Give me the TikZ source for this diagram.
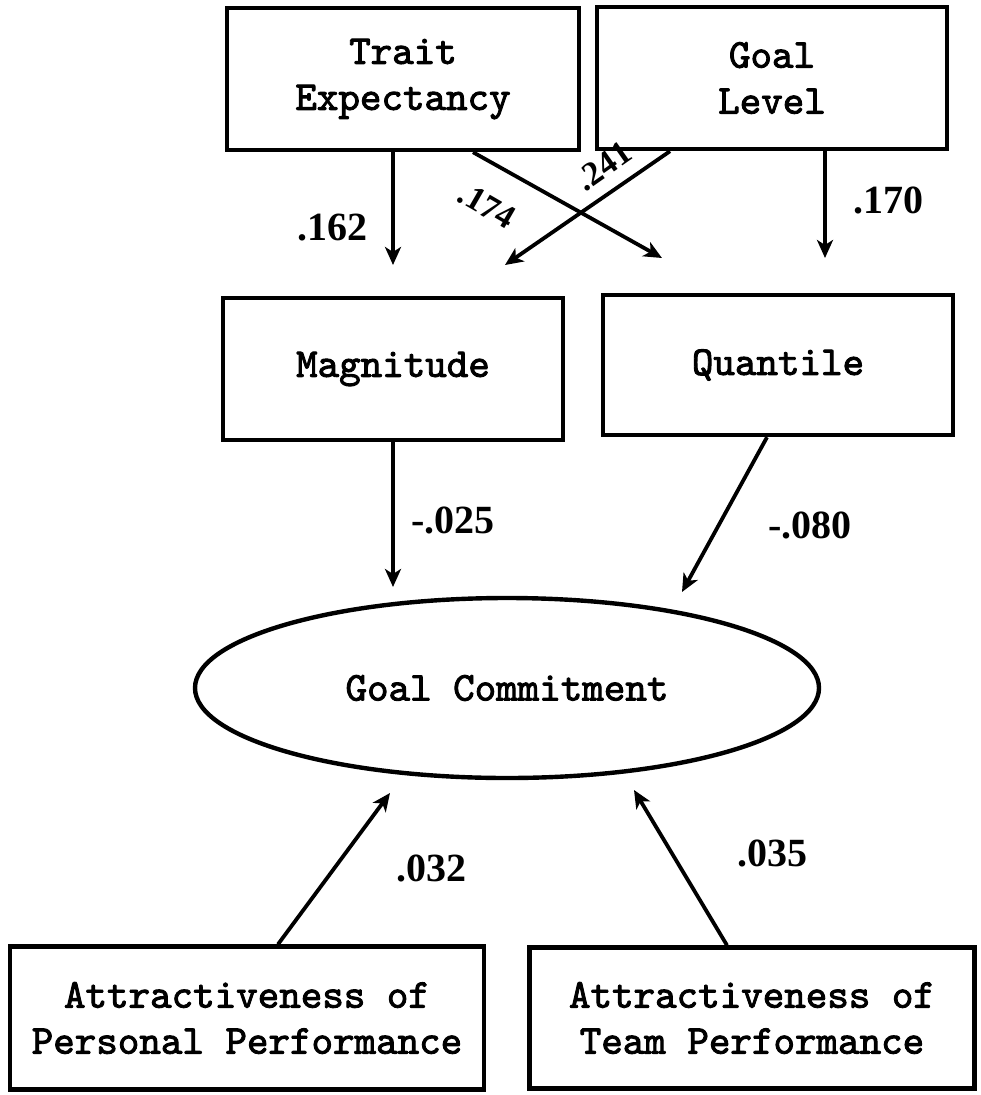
\documentclass[tikz,border=0pt]{standalone}
\usepackage{fontspec}
\usetikzlibrary{arrows.meta,shapes.geometric}
\newfontfamily\boxfont{lmmono10-regular.otf}[FakeBold=2.2]
\newfontfamily\numfont{Liberation Serif}
\tikzset{
  box/.style={draw,line width=4.4pt,rectangle,inner sep=0pt,align=center,
    font=\boxfont\fontsize{41}{46}\selectfont},
  latent/.style={draw,line width=4.4pt,ellipse,inner sep=0pt,
    font=\boxfont\fontsize{41}{46}\selectfont},
  arr/.style={line width=3.8pt,-{Stealth[length=18pt,width=16pt,inset=5pt]}},
  coef/.style={font=\numfont\bfseries\fontsize{40}{44}\selectfont,inner sep=0pt},
  coefr/.style={font=\numfont\bfseries\fontsize{34}{38}\selectfont,inner sep=0pt}
}
\begin{document}
\begin{tikzpicture}[x=1pt,y=-1pt]
\useasboundingbox (0,0) rectangle (980,1095);

% observed variables and the latent outcome
\node[box,minimum width=352pt,minimum height=142pt] (trait) at (403,79) {Trait\\Expectancy};
\node[box,minimum width=350pt,minimum height=142pt] (goal) at (772,78) {Goal\\Level};
\node[box,minimum width=340pt,minimum height=142pt] (mag) at (393,369) {Magnitude};
\node[box,minimum width=350pt,minimum height=140pt] (quant) at (778,365) {Quantile};
\node[latent,minimum width=624pt,minimum height=180pt] (gc) at (507,688) {Goal Commitment};
\node[box,minimum width=474pt,minimum height=143pt] (pers) at (247,1018) {Attractiveness of\\Personal Performance};
\node[box,minimum width=445pt,minimum height=141pt] (team) at (752,1018) {Attractiveness of\\Team Performance};

% arrow tips stop short of their targets
\coordinate (t162) at (393,265);
\coordinate (s174) at (473,0);
\coordinate (t174) at (662,258);
\coordinate (s241) at (670,0);
\coordinate (t241) at (505,265);
\coordinate (t170) at (825,258);
\coordinate (t025) at (393,587);
\coordinate (s080) at (767,0);
\coordinate (t080) at (682,592);
\coordinate (s032) at (278,0);
\coordinate (t032) at (390,793);
\coordinate (s035) at (727,0);
\coordinate (t035) at (634,790);

% paths
\draw[arr] (trait.south -| t162) -- (t162);
\draw[arr] (trait.south -| s174) -- (t174);
\draw[arr] (goal.south -| s241) -- (t241);
\draw[arr] (goal.south -| t170) -- (t170);
\draw[arr] (mag.south -| t025) -- (t025);
\draw[arr] (quant.south -| s080) -- (t080);
\draw[arr] (pers.north -| s032) -- (t032);
\draw[arr] (team.north -| s035) -- (t035);

% path coefficients
\node[coef] (c162) at (332,228) {.162};
\node[coefr,rotate=-30] (c174) at (487,206) {.174};
\node[coefr,rotate=35] (c241) at (604,166) {.241};
\node[coef] (c170) at (888,200) {.170};
\node[coef] (c025) at (453,520) {-.025};
\node[coef] (c080) at (810,525) {-.080};
\node[coef] (c032) at (431,868) {.032};
\node[coef] (c035) at (772,853) {.035};
\end{tikzpicture}
\end{document}
